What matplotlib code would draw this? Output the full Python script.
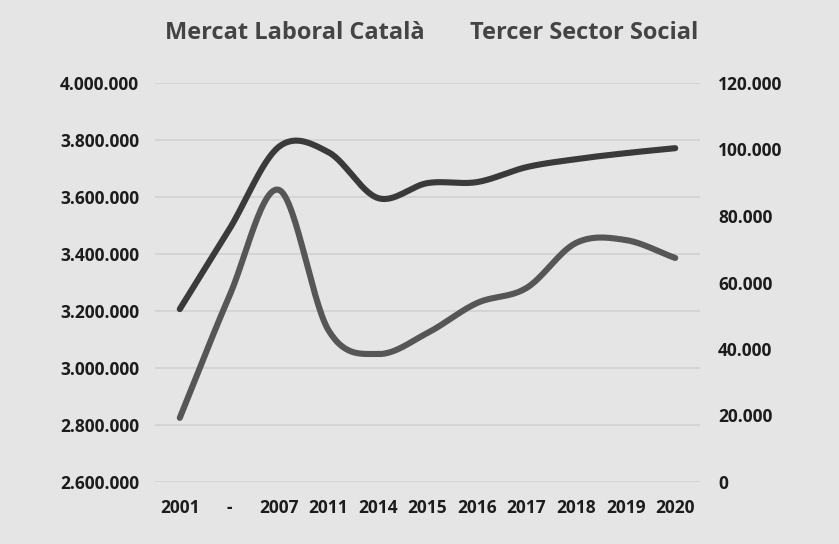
"""Mercat Laboral Català vs Tercer Sector Social - smoothed twin-axis line chart."""

import matplotlib

matplotlib.use("Agg")
import matplotlib.pyplot as plt
import numpy as np
from matplotlib.ticker import FuncFormatter


YEARS = ["2001", "-", "2007", "2011", "2014", "2015", "2016", "2017", "2018", "2019", "2020"]
MERCAT_LABORAL = [2825000, 3252000, 3625000, 3133000, 3049000, 3123000,
                  3228000, 3281000, 3439000, 3449000, 3386000]
TERCER_SECTOR = [52000, 76000, 100800, 99200, 85400, 89900,
                 90200, 94700, 97100, 98900, 100400]

BG = "#e5e5e5"
TEXT = "#1c1c1c"
plt.rcParams["font.family"] = ["Open Sans", "DejaVu Sans"]


def smooth(xs, ys, steps=30):
    """Catmull-Rom curve through the data points (Excel-style smoothed line)."""
    xs = np.asarray(xs, dtype=float)
    ys = np.asarray(ys, dtype=float)
    px = np.concatenate([[2 * xs[0] - xs[1]], xs, [2 * xs[-1] - xs[-2]]])
    py = np.concatenate([[2 * ys[0] - ys[1]], ys, [2 * ys[-1] - ys[-2]]])
    out_x, out_y = [], []
    t = np.linspace(0, 1, steps, endpoint=False)
    for i in range(1, len(px) - 2):
        for p, out in ((px, out_x), (py, out_y)):
            p0, p1, p2, p3 = p[i - 1], p[i], p[i + 1], p[i + 2]
            out.extend(0.5 * (2 * p1 + (-p0 + p2) * t
                              + (2 * p0 - 5 * p1 + 4 * p2 - p3) * t ** 2
                              + (-p0 + 3 * p1 - 3 * p2 + p3) * t ** 3))
    out_x.append(xs[-1])
    out_y.append(ys[-1])
    return np.array(out_x), np.array(out_y)


def dotted(value, _pos=None):
    return f"{int(round(value)):,}".replace(",", ".")


fig = plt.figure(figsize=(8.39, 5.44), dpi=100, facecolor=BG)
ax = fig.add_axes([155 / 839, 62 / 544, 545 / 839, 399 / 544])
ax.set_facecolor(BG)
ax2 = ax.twinx()

x = np.arange(len(YEARS))
sx, sy = smooth(x, MERCAT_LABORAL)
ax.plot(sx, sy, color="#565656", lw=4.4, solid_capstyle="round", zorder=3)
sx, sy = smooth(x, TERCER_SECTOR)
ax2.plot(sx, sy, color="#3a3a3a", lw=4.4, solid_capstyle="round", zorder=3)

ax.set_xlim(-0.5, len(YEARS) - 0.5)
ax.set_ylim(2600000, 4000000)
ax.set_yticks(np.arange(2600000, 4000001, 200000))
ax.yaxis.set_major_formatter(FuncFormatter(dotted))
ax.grid(axis="y", color="#cfcfcf", lw=1.1)
ax.set_axisbelow(True)
ax.set_xticks(x)
ax.set_xticklabels(YEARS)

ax2.set_ylim(0, 120000)
ax2.set_yticks(np.arange(0, 120001, 20000))
ax2.yaxis.set_major_formatter(FuncFormatter(dotted))

for a in (ax, ax2):
    for spine in a.spines.values():
        spine.set_visible(False)
    a.tick_params(length=0, labelsize=12.5, labelcolor=TEXT)
    for label in a.get_xticklabels() + a.get_yticklabels():
        label.set_fontweight("bold")
ax.tick_params(axis="y", pad=11.5)
ax.tick_params(axis="x", pad=12)
ax2.tick_params(axis="y", pad=13)

fig.text(165 / 839, 1 - 33 / 544, "Mercat Laboral Català", ha="left", va="center",
         fontsize=17, fontweight="bold", color="#444444")
fig.text(470 / 839, 1 - 33 / 544, "Tercer Sector Social", ha="left", va="center",
         fontsize=17, fontweight="bold", color="#444444")

fig.savefig("out.png", dpi=100, facecolor=BG)
plt.close(fig)
